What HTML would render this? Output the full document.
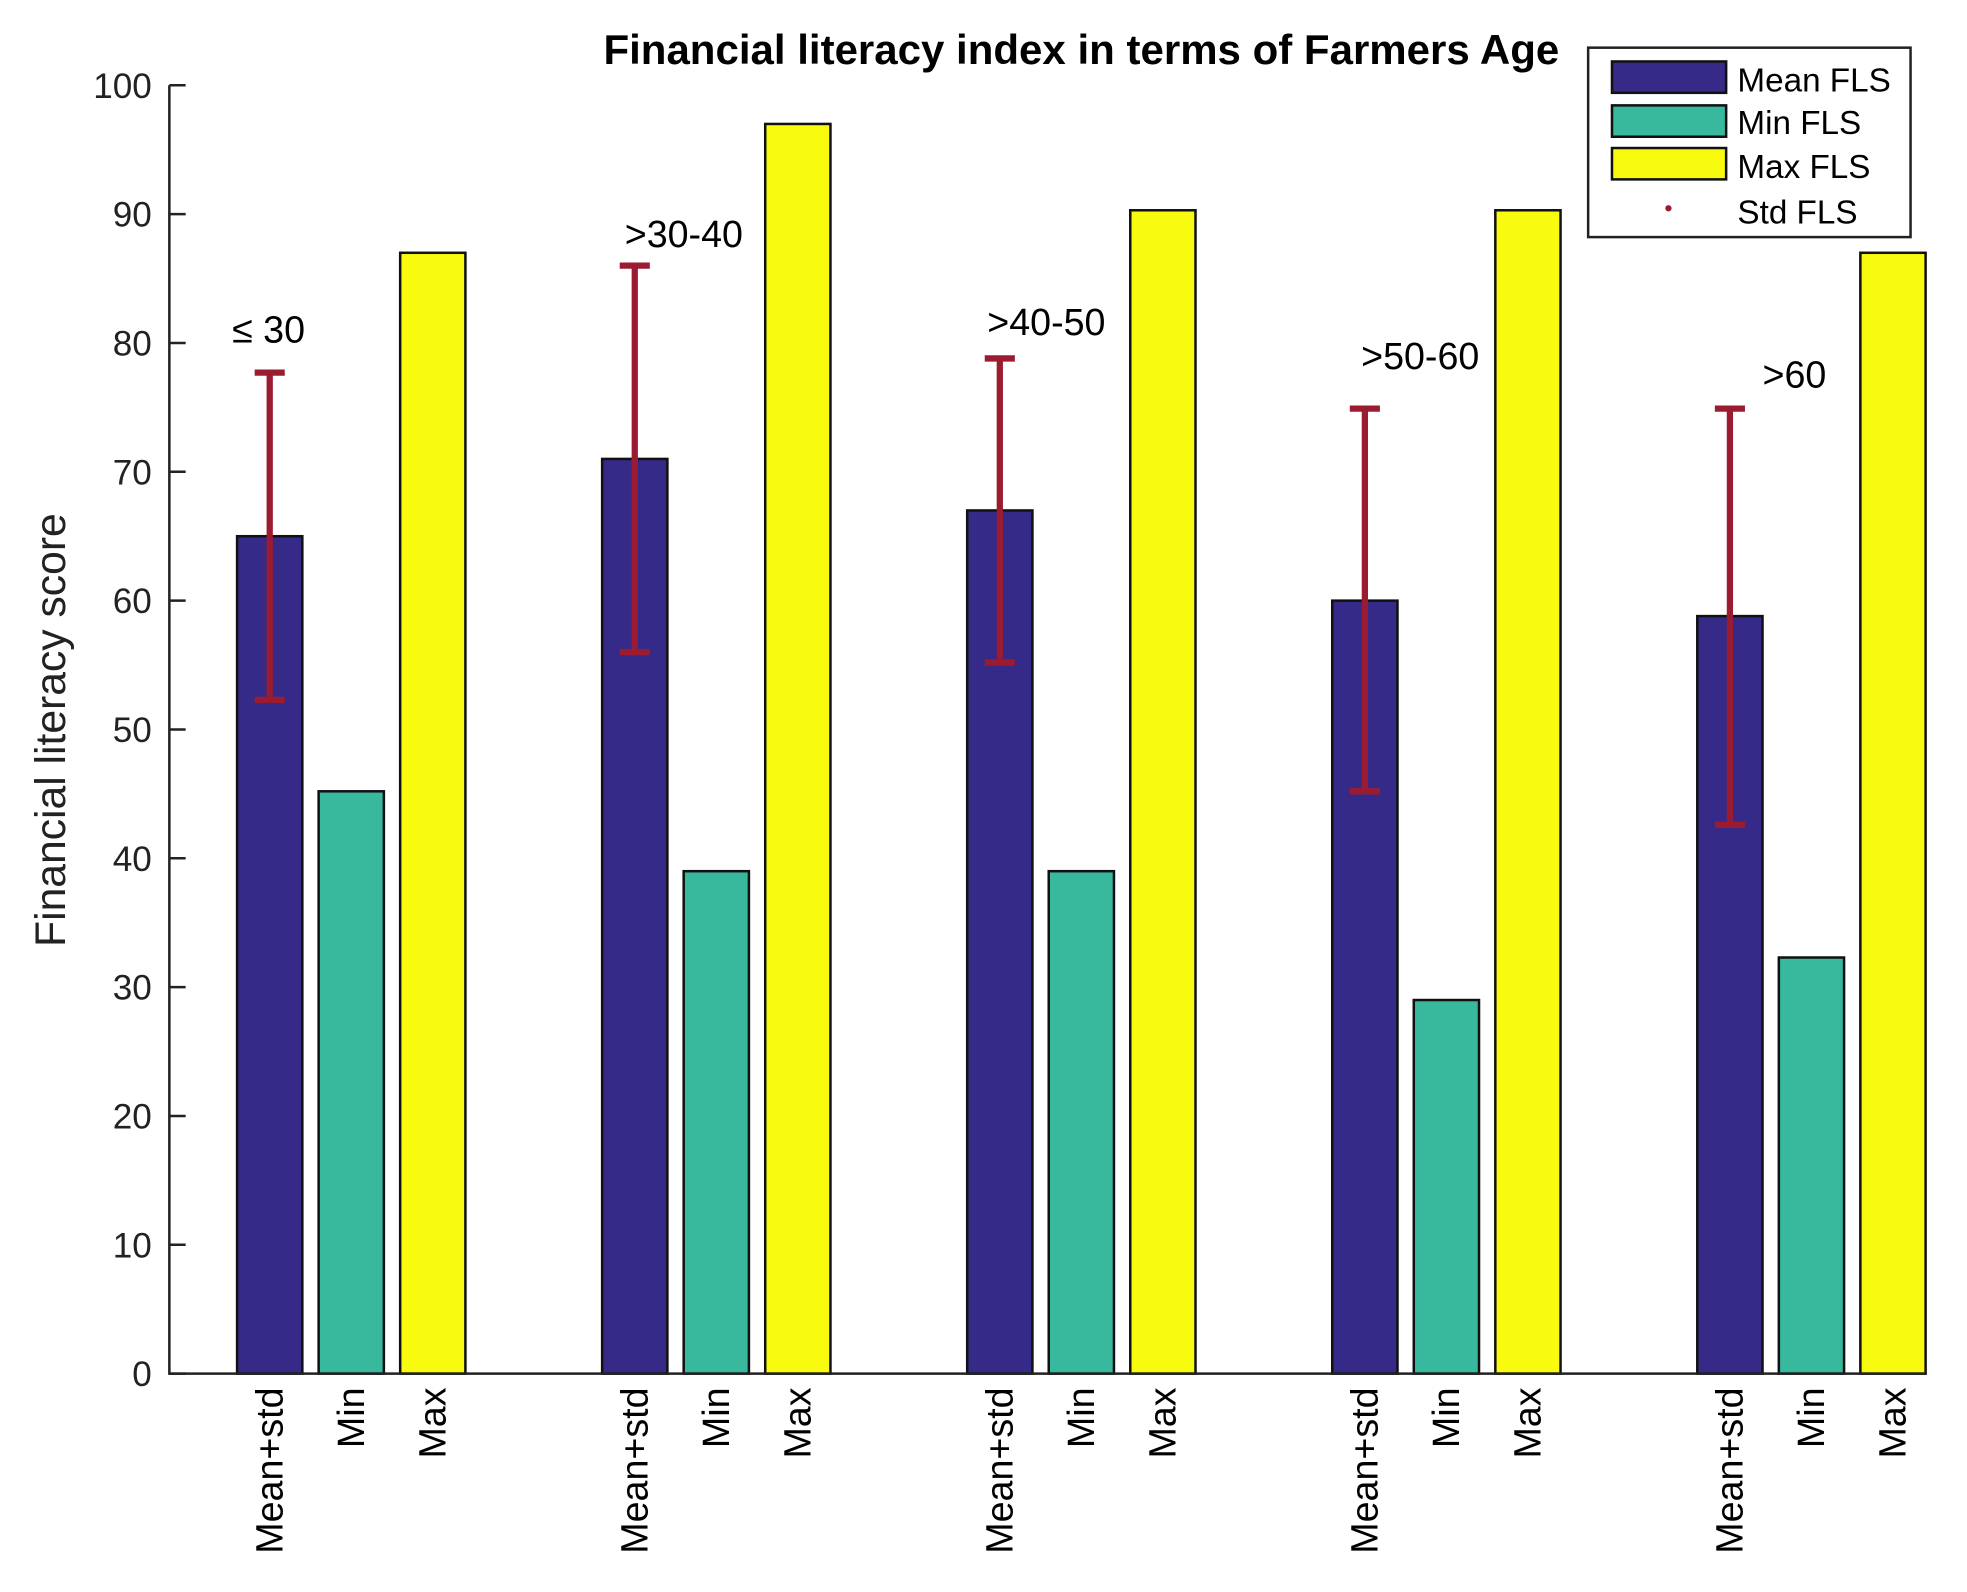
<!DOCTYPE html>
<html><head><meta charset="utf-8"><style>
html,body{margin:0;padding:0;background:#fff;}
svg{display:block;font-family:"Liberation Sans",sans-serif;}
</style></head><body>
<svg id="chart" width="1967" height="1592" viewBox="0 0 1568 1269" preserveAspectRatio="xMinYMin meet" xmlns="http://www.w3.org/2000/svg">
<text x="862" y="51" text-anchor="middle" font-size="33.5" font-weight="bold">Financial literacy index in terms of Farmers Age</text>
<text transform="translate(52,582) rotate(-90)" text-anchor="middle" font-size="34" fill="#222">Financial literacy score</text>
<g id="plot"></g>
<g>
<rect x="1266" y="38" width="257" height="151" fill="#fff" stroke="#222" stroke-width="2"/>
<rect x="1285" y="49" width="91" height="25" fill="#352a87" stroke="#111" stroke-width="2"/>
<text x="1385" y="73" font-size="26.5">Mean FLS</text>
<rect x="1285" y="84" width="91" height="25" fill="#38b99e" stroke="#111" stroke-width="2"/>
<text x="1385" y="107" font-size="26.5">Min FLS</text>
<rect x="1285" y="118" width="91" height="25" fill="#f9fb0e" stroke="#111" stroke-width="2"/>
<text x="1385" y="142" font-size="26.5">Max FLS</text>
<circle cx="1330" cy="166" r="2.5" fill="#9b1b30"/>
<text x="1385" y="178" font-size="26.5">Std FLS</text>
</g>
</svg>
<script>
const groups = ["\u2264 30", ">30-40", ">40-50", ">50-60", ">60"];
const meanVals = [65, 71, 67, 60, 58.8];
const minVals = [45.2, 39, 39, 29, 32.3];
const maxVals = [87, 97, 90.3, 90.3, 87];
const errTop = [77.7, 86, 78.8, 74.9, 74.9];
const errBottom = [52.3, 56, 55.2, 45.2, 42.6];
const yTicks = [0, 10, 20, 30, 40, 50, 60, 70, 80, 90, 100];
const barLabels = ["Mean+std", "Min", "Max"];

const NS = "http://www.w3.org/2000/svg";
const plot = document.getElementById('plot');
const X0 = 135, Y0 = 1095, YTOP = 68, XEND = 1535;
const labelDX = [-4, 18, 16, 23, 52];
const labelY = [273, 197, 267, 294, 309];
function y(v){ return Y0 - (v/100)*(Y0-YTOP); }
function gx(i){ return 189 + i*291; }
const BW = 52, STEP = 65;
function mk(tag, attrs){ const e=document.createElementNS(NS,tag); for(const k in attrs) e.setAttribute(k, attrs[k]); plot.appendChild(e); return e; }

const colors = ["#352a87", "#38b99e", "#f9fb0e"];
const series = [meanVals, minVals, maxVals];
const names = ["mean", "min", "max"];
groups.forEach((g, i) => {
  series.forEach((s, k) => {
    const x = gx(i) + k*STEP;
    const r = mk('rect', {x:x, y:y(s[i]), width:BW, height:Y0-y(s[i]), fill:colors[k], stroke:'#111', 'stroke-width':2});
    
    
    const lx = x + BW/2 + 10;
    const t = mk('text', {transform:`translate(${lx},1106) rotate(-90)`, 'text-anchor':'end', 'font-size':30});
    t.textContent = barLabels[k];
    
    
  });
  const cx = gx(i) + BW/2;
  const eg = document.createElementNS(NS,'g'); plot.appendChild(eg);
  
  
  [[cx,y(errTop[i]),cx,y(errBottom[i])],[cx-12,y(errTop[i]),cx+12,y(errTop[i])],[cx-12,y(errBottom[i]),cx+12,y(errBottom[i])]].forEach(l=>{
    const ln=document.createElementNS(NS,'line');
    ln.setAttribute('x1',l[0]);ln.setAttribute('y1',l[1]);ln.setAttribute('x2',l[2]);ln.setAttribute('y2',l[3]);
    ln.setAttribute('stroke','#9b1b30');ln.setAttribute('stroke-width',5);
    eg.appendChild(ln);
  });
  const gl = mk('text', {x: gx(i) + labelDX[i], y: labelY[i], 'font-size':30});
  gl.textContent = g;
  
  
});

const ax = mk('path', {d:`M${X0},${YTOP} V${Y0} H${XEND}`, fill:'none', stroke:'#222', 'stroke-width':2});


yTicks.forEach(v => {
  const tk = mk('line', {x1:X0, x2:X0+13, y1:y(v), y2:y(v), stroke:'#222', 'stroke-width':2});
  
  
  const t = mk('text', {x:X0-14, y:y(v)+10, 'text-anchor':'end', 'font-size':28, fill:'#222'});
  t.textContent = v;
  
  
});
</script>
</body></html>
